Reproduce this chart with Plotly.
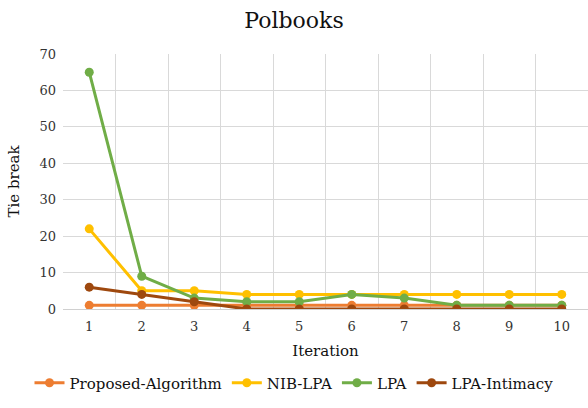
import plotly.graph_objects as go

iterations = [1, 2, 3, 4, 5, 6, 7, 8, 9, 10]
proposed = [1, 1, 1, 1, 1, 1, 1, 1, 1, 1]
nib_lpa = [22, 5, 5, 4, 4, 4, 4, 4, 4, 4]
lpa = [65, 9, 3, 2, 2, 4, 3, 1, 1, 1]
lpa_intimacy = [6, 4, 2, 0, 0, 0, 0, 0, 0, 0]

series = [
    ("Proposed-Algorithm", proposed, "#ED7D31"),
    ("NIB-LPA", nib_lpa, "#FFC000"),
    ("LPA", lpa, "#70AD47"),
    ("LPA-Intimacy", lpa_intimacy, "#9E480E"),
]

fig = go.Figure()
for name, vals, color in series:
    fig.add_trace(go.Scatter(
        x=iterations, y=vals, name=name, mode="lines+markers",
        line=dict(color=color, width=3),
        marker=dict(color=color, size=9),
    ))

font = "DejaVu Serif"
fig.update_layout(
    width=588, height=408,
    margin=dict(l=63, r=0, t=54, b=99, autoexpand=False),
    paper_bgcolor="white", plot_bgcolor="white",
    font=dict(family=font, size=13, color="#333333"),
    title=dict(text="Polbooks", x=0.5, xanchor="center", y=0.95, yanchor="middle",
               font=dict(family=font, size=22, color="#111111")),
    xaxis=dict(
        range=[0.5, 10.5], tickvals=iterations, ticktext=[str(i) for i in iterations],
        showgrid=False, zeroline=False, showline=False, ticks="",
        ticklabelstandoff=8, tickangle=0,
        minor=dict(tickvals=[i + 0.5 for i in range(0, 11)], showgrid=True,
                   gridcolor="#D9D9D9", gridwidth=1, ticks=""),
        title=dict(text="Iteration", font=dict(family=font, size=15, color="#111111"), standoff=12),
        tickfont=dict(family=font, size=13, color="#333333"),
    ),
    yaxis=dict(
        range=[0, 70], dtick=10, showgrid=True, gridcolor="#D9D9D9", gridwidth=1,
        zeroline=True, zerolinecolor="#D0D0D0", zerolinewidth=1, showline=False, ticks="",
        ticklabelstandoff=6,
        title=dict(text="Tie break", font=dict(family=font, size=15, color="#111111"), standoff=16),
        tickfont=dict(family=font, size=13, color="#333333"),
    ),
    legend=dict(orientation="h", x=0.44, xanchor="center",
                y=-0.29, yanchor="middle",
                font=dict(family=font, size=15, color="#111111"), itemwidth=30),
)

fig.write_html("out.html")
